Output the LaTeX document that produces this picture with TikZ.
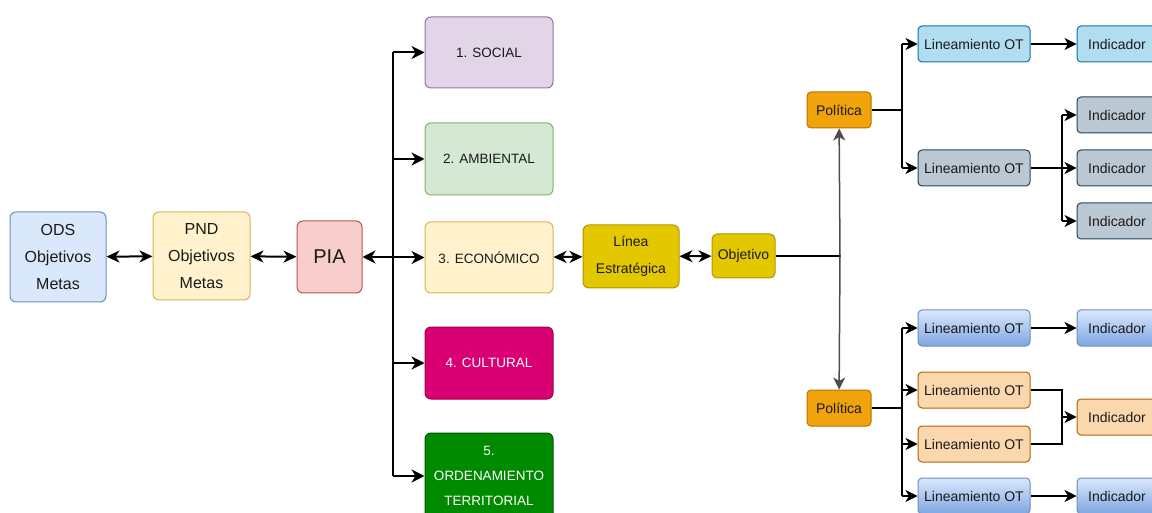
\documentclass[tikz,border=0pt]{standalone}
\usepackage{fontspec}
\setmainfont{Liberation Sans}
\usetikzlibrary{arrows.meta}
\definecolor{odsF}{HTML}{DAE8FC}\definecolor{odsD}{HTML}{6C8EBF}
\definecolor{yelF}{HTML}{FFF2CC}\definecolor{yelD}{HTML}{D6B656}
\definecolor{redF}{HTML}{F8CECC}\definecolor{redD}{HTML}{B85450}
\definecolor{purF}{HTML}{E1D5E7}\definecolor{purD}{HTML}{9673A6}
\definecolor{grnF}{HTML}{D5E8D4}\definecolor{grnD}{HTML}{82B366}
\definecolor{magF}{HTML}{D80073}\definecolor{magD}{HTML}{A50040}
\definecolor{dgrF}{HTML}{008A00}\definecolor{dgrD}{HTML}{005700}
\definecolor{golF}{HTML}{E3C800}\definecolor{golD}{HTML}{B09500}
\definecolor{oraF}{HTML}{F0A30A}\definecolor{oraD}{HTML}{BD7000}
\definecolor{cyaF}{HTML}{B1DDF0}\definecolor{cyaD}{HTML}{10739E}
\definecolor{gryF}{HTML}{BAC8D3}\definecolor{gryD}{HTML}{23445D}
\definecolor{peaF}{HTML}{FAD7AC}\definecolor{peaD}{HTML}{B46504}
\definecolor{bluB}{HTML}{7EA6E0}
\definecolor{txt}{HTML}{1A1A1A}
\begin{document}
\begin{tikzpicture}[x=1pt,y=-1pt,
  box/.style={draw, rounded corners=6pt, line width=1pt, align=center, inner sep=0pt,
    text=txt, font=\fontsize{13.5}{25}\selectfont},
  sm/.style={box, rounded corners=4pt, minimum width=112pt, minimum height=36pt, font=\fontsize{14}{16}\selectfont},
  ind/.style={sm, minimum width=80pt},
  bigarr/.style={line width=2pt, -{Stealth[length=13pt,width=13pt,inset=4pt]}},
  bigdbl/.style={line width=2pt, {Stealth[length=13pt,width=12pt,inset=4pt]}-{Stealth[length=13pt,width=12pt,inset=4pt]}},
  smarr/.style={line width=1.3pt, -{Stealth[length=12pt,width=12pt,inset=3.5pt]}},
  smline/.style={line width=1.3pt},
  grad/.style={top color=odsF, bottom color=bluB, draw=odsD}
]
\useasboundingbox (0,0) rectangle (1152,513);
\clip (0,0) rectangle (1152,513);

% left chain
\node[box, fill=odsF, draw=odsD, minimum width=96pt, minimum height=90pt, font=\fontsize{16}{27}\selectfont] (ods) at (58,257) {ODS\\Objetivos\\Metas};
\node[box, fill=yelF, draw=yelD, minimum width=97pt, minimum height=88pt, font=\fontsize{16}{27}\selectfont] (pnd) at (201.5,256) {PND\\Objetivos\\Metas};
\node[box, fill=redF, draw=redD, minimum width=65pt, minimum height=72pt, font=\fontsize{20}{22}\selectfont] (pia) at (329.5,257) {PIA};

% dimensions
\node[box, fill=purF, draw=purD, minimum width=128pt, minimum height=71pt] (soc) at (489,52.5) {1. SOCIAL};
\node[box, fill=grnF, draw=grnD, minimum width=128pt, minimum height=72pt] (amb) at (489,159) {2. AMBIENTAL};
\node[box, fill=yelF, draw=yelD, minimum width=128pt, minimum height=71pt] (eco) at (489,257.5) {3. ECONÓMICO};
\node[box, fill=magF, draw=magD, minimum width=128pt, minimum height=72pt, text=white] (cul) at (489,363) {4. CULTURAL};
\node[box, fill=dgrF, draw=dgrD, minimum width=128pt, minimum height=86pt, text=white] (ord) at (489,476) {5.\\ORDENAMIENTO\\TERRITORIAL};

% linea / objetivo
\node[box, fill=golF, draw=golD, minimum width=96pt, minimum height=63pt, font=\fontsize{14}{27}\selectfont] (lin) at (631,256.5) {Línea\\Estratégica};
\node[box, fill=golF, draw=golD, rounded corners=5pt, minimum width=63pt, minimum height=44pt, font=\fontsize{14}{16}\selectfont] (obj) at (743.5,256) {Objetivo};

% politicas
\node[sm, fill=oraF, draw=oraD, minimum width=64pt] (pol1) at (839,110) {Política};
\node[sm, fill=oraF, draw=oraD, minimum width=64pt] (pol2) at (839,408) {Política};

% top branch
\node[sm, fill=cyaF, draw=cyaD] (l1) at (974,44) {Lineamiento OT};
\node[ind, fill=cyaF, draw=cyaD] (i1) at (1117,44) {Indicador};
\node[sm, fill=gryF, draw=gryD] (l2) at (974,168) {Lineamiento OT};
\node[ind, fill=gryF, draw=gryD] (i2a) at (1117,115) {Indicador};
\node[ind, fill=gryF, draw=gryD] (i2b) at (1117,168) {Indicador};
\node[ind, fill=gryF, draw=gryD] (i2c) at (1117,221) {Indicador};

% bottom branch
\node[sm, grad] (l3) at (974,328) {Lineamiento OT};
\node[ind, grad] (i3) at (1117,328) {Indicador};
\node[sm, fill=peaF, draw=peaD] (l4) at (974,390) {Lineamiento OT};
\node[sm, fill=peaF, draw=peaD] (l5) at (974,444) {Lineamiento OT};
\node[ind, fill=peaF, draw=peaD] (i4) at (1117,417) {Indicador};
\node[sm, grad] (l6) at (974,496) {Lineamiento OT};
\node[ind, grad] (i6) at (1117,496) {Indicador};

% junction coordinates
\coordinate (jp) at (393,257);
\coordinate (jo) at (840,256);
\coordinate (jt) at (902,110);
\coordinate (jb) at (902,408);
\coordinate (j2) at (1062,168);
\coordinate (j4) at (1062,417);

% connectors left
\draw[bigdbl] (ods) -- (pnd);
\draw[bigdbl] (pnd) -- (pia);
\draw[bigarr] (jp) -- (pia);
\draw[line width=2pt] (jp |- soc) -- (jp |- ord);
\foreach \n in {soc,amb,eco,cul,ord} \draw[bigarr] (jp |- \n) -- (\n);
\draw[bigdbl] (eco) -- (lin);
\draw[bigdbl] (lin) -- (obj);

% objetivo to politicas
\draw[line width=2pt] (obj) -- (jo);
\draw[smarr, line width=1.5pt, draw=black!70] (jo) -- (pol1);
\draw[smarr, line width=1.5pt, draw=black!70] (jo) -- (pol2);

% top politica
\draw[smline] (pol1) -- (jt);
\draw[smline] (jt |- l1) -- (jt |- l2);
\draw[smarr] (jt |- l1) -- (l1);
\draw[smarr] (jt |- l2) -- (l2);
\draw[smarr] (l1) -- (i1);
\draw[smline] (l2) -- (j2);
\draw[smline] (j2 |- i2a) -- (j2 |- i2c);
\foreach \n in {i2a,i2b,i2c} \draw[smarr] (j2 |- \n) -- (\n);

% bottom politica
\draw[smline] (pol2) -- (jb);
\draw[smline] (jb |- l3) -- (jb |- l6);
\foreach \n in {l3,l4,l5,l6} \draw[smarr] (jb |- \n) -- (\n);
\draw[smarr] (l3) -- (i3);
\draw[smarr] (l6) -- (i6);
\draw[smline] (l4.east) -| (j4) |- (l5.east);
\draw[smarr] (j4) -- (i4);
\end{tikzpicture}
\end{document}
